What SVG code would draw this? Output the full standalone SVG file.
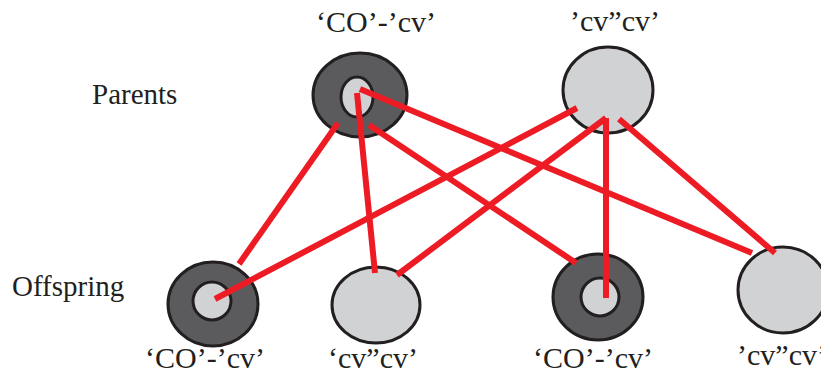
<svg xmlns="http://www.w3.org/2000/svg" width="821" height="378" viewBox="0 0 821 378">
<style>
.lbl{font-family:"Liberation Serif","Times New Roman",serif;font-size:30px;fill:#231f20;text-anchor:middle}
.side{font-family:"Liberation Serif","Times New Roman",serif;font-size:29px;fill:#231f20}
.dark{fill:#5b5b5d;stroke:#231f20;stroke-width:3}
.light{fill:#d1d2d4;stroke:#231f20;stroke-width:3}
.edge{stroke:#ed1c24;stroke-width:6;fill:none}
</style>
<rect width="821" height="378" fill="#ffffff"/>
<text class="side" x="92" y="104">Parents</text>
<text class="side" x="12" y="296">Offspring</text>
<g id="parent1">
<ellipse class="dark" cx="360" cy="95" rx="47" ry="42"/>
<ellipse class="light" cx="357" cy="97" rx="16" ry="20"/>
<text class="lbl" x="376" y="32">‘CO’-’cv’</text>
</g>
<g id="parent2">
<ellipse class="light" cx="608" cy="90" rx="45" ry="43"/>
<text class="lbl" x="615" y="31">’cv”cv’</text>
</g>
<g id="offspring1">
<ellipse class="dark" cx="213" cy="304" rx="45" ry="42"/>
<ellipse class="light" cx="212" cy="301" rx="19" ry="19"/>
<text class="lbl" x="205" y="368">‘CO’-’cv’</text>
</g>
<g id="offspring2">
<ellipse class="light" cx="376" cy="305" rx="44" ry="38"/>
<text class="lbl" x="373" y="368">‘cv”cv’</text>
</g>
<g id="offspring3">
<ellipse class="dark" cx="598" cy="297" rx="45" ry="43"/>
<ellipse class="light" cx="600" cy="297" rx="19" ry="19"/>
<text class="lbl" x="593" y="368">‘CO’-’cv’</text>
</g>
<g id="offspring4">
<ellipse class="light" cx="783" cy="290" rx="45" ry="43"/>
<text class="lbl" x="782" y="365">’cv”cv’</text>
</g>
<g id="connectors">
<line class="edge" x1="360" y1="89" x2="752" y2="253"/>
<line class="edge" x1="357" y1="93" x2="375" y2="273"/>
<line class="edge" x1="369" y1="125" x2="576" y2="263"/>
<line class="edge" x1="338" y1="123" x2="239" y2="264"/>
<line class="edge" x1="577" y1="108" x2="215" y2="299"/>
<line class="edge" x1="606" y1="118" x2="397" y2="275"/>
<line class="edge" x1="606" y1="118" x2="606" y2="298"/>
<line class="edge" x1="619" y1="119" x2="775" y2="253"/>
</g>
</svg>
